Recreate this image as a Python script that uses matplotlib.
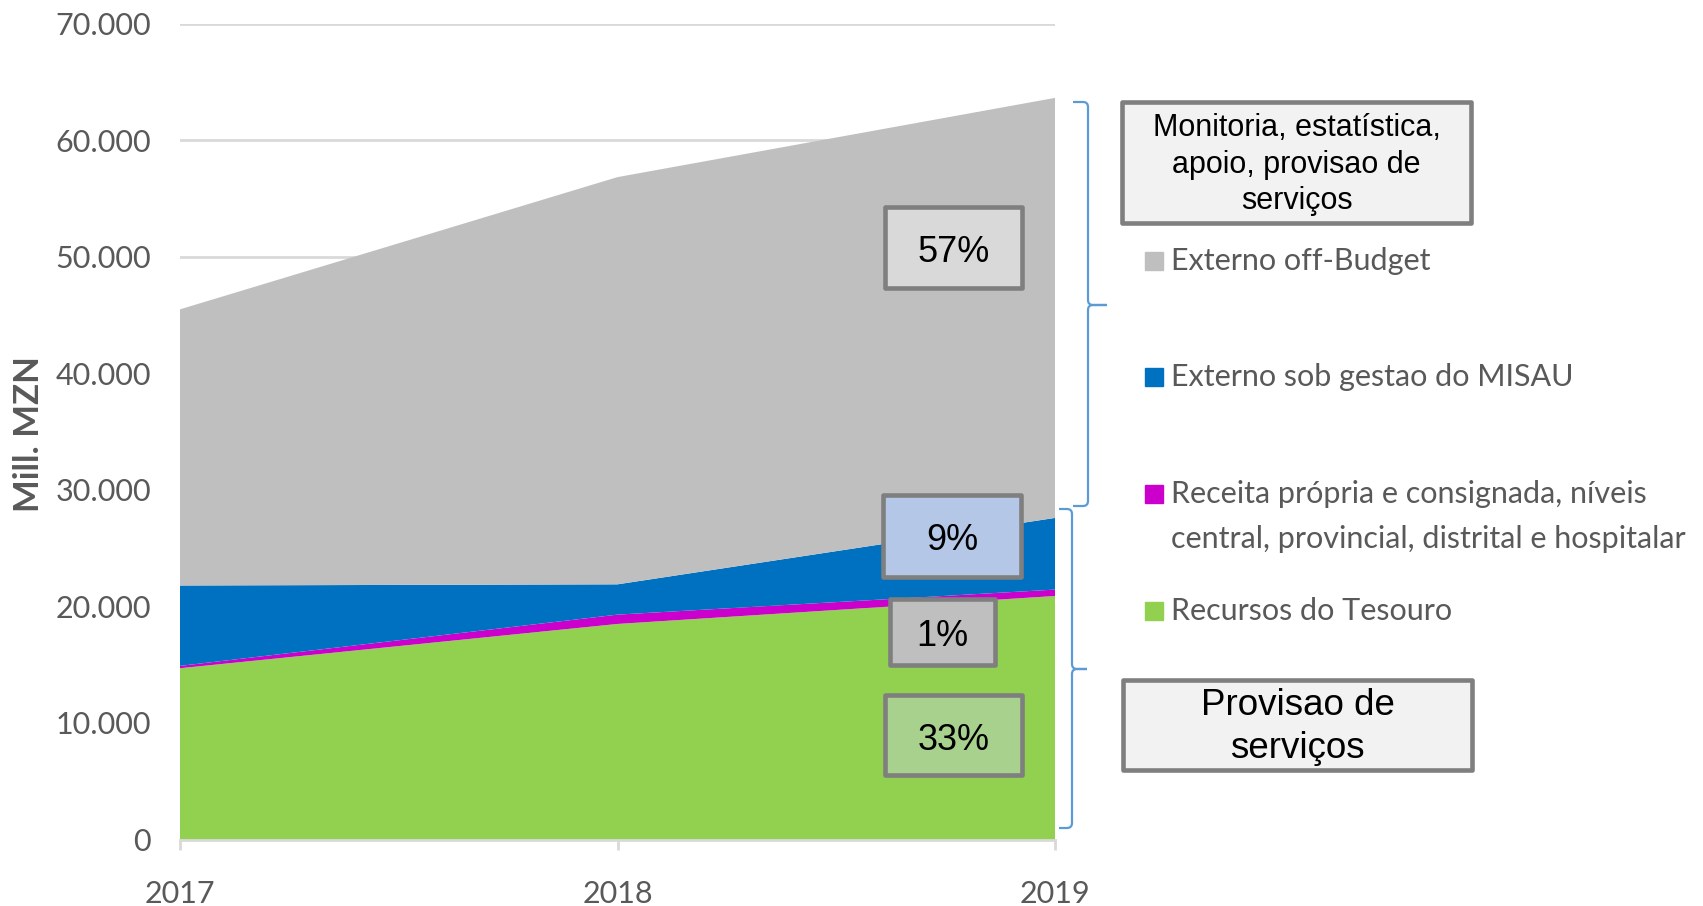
import matplotlib
matplotlib.use('Agg')
import matplotlib.pyplot as plt
from matplotlib.patches import Rectangle, PathPatch
from matplotlib.path import Path

plt.rcParams['font.family'] = ['Lato', 'DejaVu Sans']

# data (Mill. MZN)
years = [2017, 2018, 2019]
tesouro = [14700, 18500, 20900]
receita = [200, 800, 550]
misau = [6900, 2600, 6150]
off_budget = [23700, 34950, 36050]

series_names = ['Recursos do Tesouro',
                'Receita própria e consignada, níveis\ncentral, provincial, distrital e hospitalar',
                'Externo sob gestao do MISAU',
                'Externo off-Budget']
colors = ['#92d050', '#cc00cc', '#0070c0', '#bfbfbf']

shares_2019 = ['33%', '1%', '9%', '57%']
share_fills = ['#a9d18e', '#bfbfbf', '#b4c7e7', '#d9d9d9']

group_labels = ['Monitoria, estatística,\napoio, provisao de\nserviços', 'Provisao de\nserviços']

W, H = 1703, 906
fig = plt.figure(figsize=(W / 100, H / 100), dpi=100)


def fx(px):
    return px / W


def fy(py):
    return 1 - py / H


ax = fig.add_axes([fx(180), fy(839.5), fx(1055) - fx(180), fy(23.9) - fy(839.5)])
ax.stackplot(years, tesouro, receita, misau, off_budget, colors=colors, linewidth=0)
ax.set_xlim(2017, 2019)
ax.set_ylim(0, 70000)
ax.set_xticks(years)
ax.set_yticks(range(0, 70001, 10000))
ax.yaxis.set_major_formatter(lambda v, p: f'{int(v):,}'.replace(',', '.'))
ax.grid(axis='y', color='#d9d9d9', lw=2)
ax.set_axisbelow(True)
for s in ['left', 'top', 'right']:
    ax.spines[s].set_visible(False)
ax.spines['bottom'].set_color('#d9d9d9')
ax.spines['bottom'].set_linewidth(2)
ax.tick_params(axis='y', length=0, pad=21, labelsize=22, labelcolor='#595959')
ax.tick_params(axis='x', length=7, width=2, color='#d9d9d9', pad=22,
               labelsize=22, labelcolor='#595959')

fig.text(fx(29), fy(434), 'Mill. MZN', rotation=90, ha='center', va='center',
         fontsize=25, fontweight='bold', color='#595959')

# legend, drawn by hand (entries are unevenly spaced in the original)
legend_y = [611, 494, 377, 261]
for name, c, ly in zip(series_names, colors, legend_y):
    fig.patches.append(Rectangle((fx(1145), fy(ly + 9)), fx(18), 18 / H, color=c,
                                 transform=fig.transFigure))
    if '\n' in name:
        fig.text(fx(1171), fy(ly - 14), name, ha='left', va='top',
                 fontsize=22, color='#595959', linespacing=1.73)
    else:
        fig.text(fx(1171), fy(ly), name, ha='left', va='center',
                 fontsize=22, color='#595959')

# percentage boxes for 2019
box_pos = [(885, 695, 1022, 775), (890, 599, 995, 665), (883, 495, 1021, 577), (885, 207, 1022, 288)]
for txt, fc, (x0, y0, x1, y1) in zip(shares_2019, share_fills, box_pos):
    fig.patches.append(Rectangle((fx(x0), fy(y1)), fx(x1 - x0), (y1 - y0) / H, facecolor=fc,
                                 edgecolor='#7f7f7f', lw=3.3, joinstyle='round',
                                 transform=fig.transFigure))
    fig.text(fx((x0 + x1) / 2), fy((y0 + y1) / 2 + 5), txt, ha='center', va='center',
             fontsize=26, family='Liberation Sans', color='black')

# group boxes
group_pos = [(1122, 102, 1471, 223), (1123, 680, 1472, 770)]
group_sizes = [22, 26.5]
group_spacing = [1.27, 1.3]
for txt, (x0, y0, x1, y1), fs, ls in zip(group_labels, group_pos, group_sizes, group_spacing):
    fig.patches.append(Rectangle((fx(x0), fy(y1)), fx(x1 - x0), (y1 - y0) / H, facecolor='#f2f2f2',
                                 edgecolor='#7f7f7f', lw=3.3, joinstyle='round',
                                 transform=fig.transFigure))
    fig.text(fx((x0 + x1) / 2), fy((y0 + y1) / 2 + 2), txt, ha='center', va='center',
             fontsize=fs, family='Liberation Sans', color='black', linespacing=ls)


def brace(x_out, x_line, x_tip, y_top, y_mid, y_bot, r=5):
    pts = [(x_out, y_top), (x_line - r, y_top), (x_line, y_top), (x_line, y_top + r),
           (x_line, y_mid - r), (x_line, y_mid), (x_line + r, y_mid), (x_tip, y_mid),
           (x_line + r, y_mid), (x_line, y_mid), (x_line, y_mid + r),
           (x_line, y_bot - r), (x_line, y_bot), (x_line - r, y_bot), (x_out, y_bot)]
    codes = [Path.MOVETO, Path.LINETO, Path.CURVE3, Path.CURVE3,
             Path.LINETO, Path.CURVE3, Path.CURVE3, Path.LINETO,
             Path.LINETO, Path.CURVE3, Path.CURVE3,
             Path.LINETO, Path.CURVE3, Path.CURVE3, Path.LINETO]
    verts = [(fx(x), fy(y)) for x, y in pts]
    fig.patches.append(PathPatch(Path(verts, codes), fill=False, edgecolor='#5b9bd5', lw=1.6,
                                 transform=fig.transFigure))


brace(1073, 1088, 1107, 102, 305, 506)
brace(1059, 1072, 1087, 509, 669, 828)

fig.savefig('out.png', dpi=100)
